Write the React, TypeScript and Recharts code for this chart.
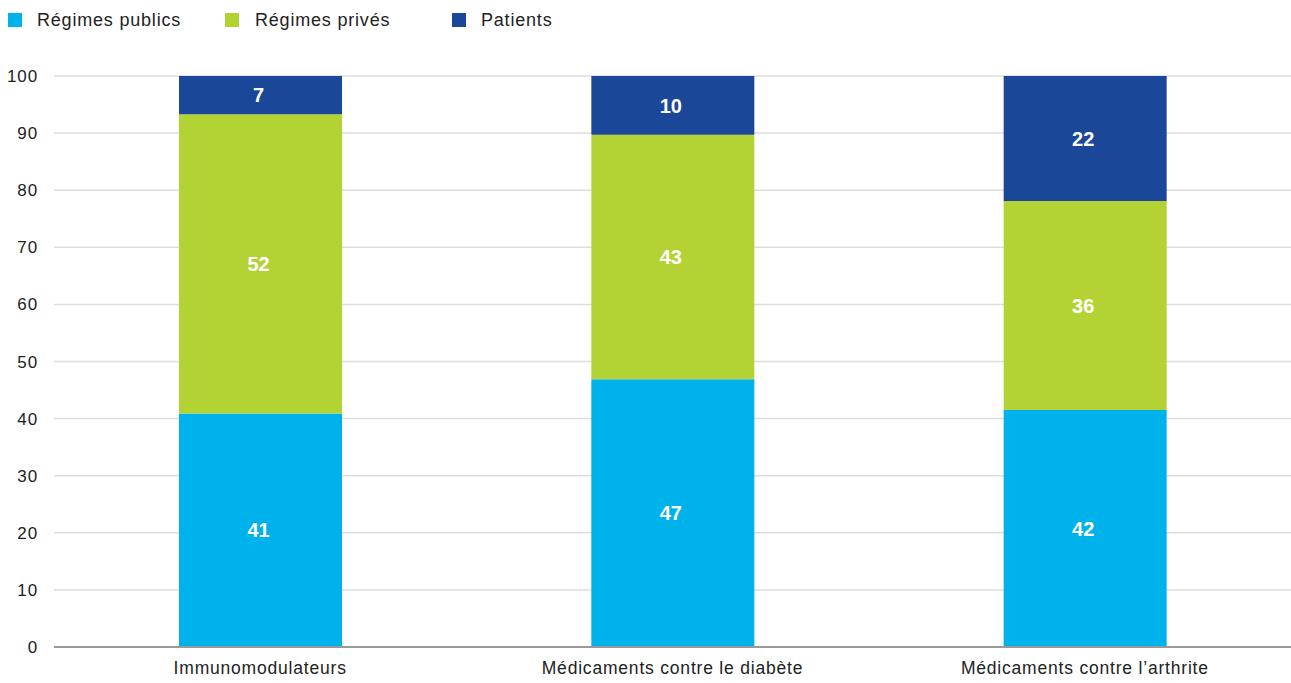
import React from "react";
import { BarChart, Bar, XAxis, YAxis, CartesianGrid, LabelList } from "recharts";

const categories = ["Immunomodulateurs", "Médicaments contre le diabète", "Médicaments contre l’arthrite"];
const publicPlans = [40.9, 46.9, 41.5];
const privatePlans = [52.4, 42.8, 36.6];
const patients = [6.7, 10.3, 21.9];
const publicLabels = [41, 47, 42];
const privateLabels = [52, 43, 36];
const patientLabels = [7, 10, 22];
const yTicks = [0, 10, 20, 30, 40, 50, 60, 70, 80, 90, 100];

const seriesNames = ["Régimes publics", "Régimes privés", "Patients"];
const colors = ["#00B2EC", "#B3D335", "#1B4798"];

const data = categories.map((c, i) => ({
  name: c,
  pub: publicPlans[i],
  priv: privatePlans[i],
  pat: patients[i],
  pubL: publicLabels[i],
  privL: privateLabels[i],
  patL: patientLabels[i],
}));

const FONT = "'Liberation Sans', Arial, Helvetica, sans-serif";

const legendPos = [
  { sq: 8, tx: 37 },
  { sq: 225, tx: 255 },
  { sq: 452, tx: 481 },
];

const labelStyle = { fill: "#ffffff", fontFamily: FONT, fontSize: 20, fontWeight: 700 } as any;

export default function App() {
  return (
    <div style={{ position: "absolute", left: 0, top: 0, width: 1291, height: 683, background: "#fff" }}>
      {seriesNames.map((n, i) => (
        <React.Fragment key={n}>
          <div style={{ position: "absolute", left: legendPos[i].sq, top: 13, width: 14, height: 14, background: colors[i] }} />
          <div
            style={{
              position: "absolute",
              left: legendPos[i].tx,
              top: 8,
              fontFamily: FONT,
              fontSize: 18,
              letterSpacing: 0.8,
              color: "#222",
              lineHeight: "24px",
              whiteSpace: "nowrap",
            }}
          >
            {n}
          </div>
        </React.Fragment>
      ))}
      <BarChart
        width={1291}
        height={683}
        data={data}
        margin={{ top: 76, right: 0, left: 0, bottom: 0 }}
        barSize={163}
      >
        <CartesianGrid vertical={false} stroke="#dddddd" strokeWidth={1.5} />
        <XAxis
          dataKey="name"
          height={36}
          tickLine={false}
          tickSize={0}
          tickMargin={15}
          axisLine={{ stroke: "#999999", strokeWidth: 2 }}
          tick={{ fill: "#222", fontFamily: FONT, fontSize: 17.5, letterSpacing: 0.8 } as any}
        />
        <YAxis
          width={54}
          domain={[0, 100]}
          ticks={yTicks}
          interval={0}
          axisLine={false}
          tickLine={false}
          tickSize={0}
          tickMargin={16}
          tick={{ fill: "#222", fontFamily: FONT, fontSize: 17, letterSpacing: 0.9 } as any}
        />
        <Bar dataKey="pub" stackId="a" fill={colors[0]} isAnimationActive={false}>
          <LabelList dataKey="pubL" position="center" offset={0} dx={-2} style={labelStyle} />
        </Bar>
        <Bar dataKey="priv" stackId="a" fill={colors[1]} isAnimationActive={false}>
          <LabelList dataKey="privL" position="center" offset={0} dx={-2} style={labelStyle} />
        </Bar>
        <Bar dataKey="pat" stackId="a" fill={colors[2]} isAnimationActive={false}>
          <LabelList dataKey="patL" position="center" offset={0} dx={-2} style={labelStyle} />
        </Bar>
      </BarChart>
    </div>
  );
}
